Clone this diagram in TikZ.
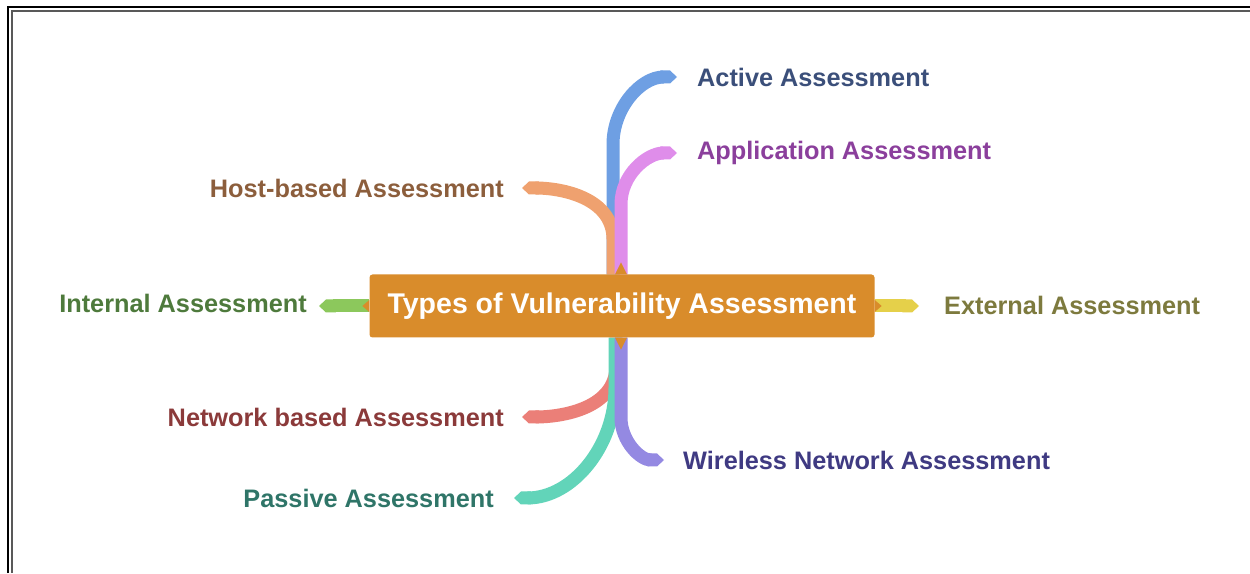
\documentclass[tikz,border=0pt]{standalone}
\usepackage{fontspec}
\setmainfont{Liberation Sans}
\usetikzlibrary{positioning,arrows.meta,backgrounds}
\definecolor{HubOrange}{HTML}{D98C2B}
\definecolor{BlueBranch}{HTML}{6E9FE3}
\definecolor{PinkBranch}{HTML}{DF8DEA}
\definecolor{OrangeBranch}{HTML}{EFA16F}
\definecolor{GreenBranch}{HTML}{8CC85C}
\definecolor{YellowBranch}{HTML}{E5D04A}
\definecolor{SalmonBranch}{HTML}{EB7F78}
\definecolor{TealBranch}{HTML}{62D4B9}
\definecolor{PurpleBranch}{HTML}{9489E2}
\definecolor{ActiveText}{HTML}{3B4F7A}
\definecolor{ApplicationText}{HTML}{8B3F9C}
\definecolor{HostText}{HTML}{8C5E3C}
\definecolor{InternalText}{HTML}{4E7A3C}
\definecolor{ExternalText}{HTML}{7D7A3E}
\definecolor{NetworkText}{HTML}{8B3A3A}
\definecolor{WirelessText}{HTML}{3F3A82}
\definecolor{PassiveText}{HTML}{2F7568}

\begin{document}
\begin{tikzpicture}[x=1pt, y=1pt,
    hubbox/.style={fill=HubOrange, text=white, rounded corners=3pt, minimum width=505pt,
      minimum height=63pt, inner sep=0pt, font=\fontsize{28.5}{32}\selectfont\bfseries},
    leaf/.style={inner sep=0pt, font=\fontsize{25.3}{30}\selectfont\bfseries},
    branch/.style={line width=13pt, -{Triangle Cap[length=7pt]}}]
  \useasboundingbox (0,0) rectangle (1250,573);

  % Frame
  \draw[line width=2.5pt, black] (8,0) -- (8,566) -- (1250,566);
  \draw[line width=2.5pt, black!65] (12,0) -- (12,562) -- (1250,562);

  % Central topic
  \node[hubbox] (hub) at (622,267) {Types of Vulnerability Assessment};
  \fill[HubOrange] ([xshift=-7pt]hub.north) -- ++(6,12) -- ++(6,-12) -- cycle;
  \fill[HubOrange] ([xshift=-7pt]hub.south) -- ++(6,-12) -- ++(6,12) -- cycle;
  \fill[HubOrange] ([yshift=-6pt]hub.west) -- ++(-7,6) -- ++(7,6) -- cycle;
  \fill[HubOrange] ([yshift=-6pt]hub.east) -- ++(7,6) -- ++(-7,6) -- cycle;

  % Leaves
  \node[leaf, anchor=west, text=ActiveText] (active) at (697,496) {Active Assessment};
  \node[leaf, anchor=west, text=ApplicationText] (application) at (697,420) {Application Assessment};
  \node[leaf, anchor=east, text=HostText] (host) at (504,385) {Host-based Assessment};
  \node[leaf, anchor=east, text=InternalText] (internal) at (307,270) {Internal Assessment};
  \node[leaf, anchor=west, text=ExternalText] (external) at (944,268) {External Assessment};
  \node[leaf, anchor=east, text=NetworkText] (network) at (504,156) {Network based Assessment};
  \node[leaf, anchor=west, text=WirelessText] (wireless) at (683,113) {Wireless Network Assessment};
  \node[leaf, anchor=east, text=PassiveText] (passive) at (494,75) {Passive Assessment};

  % Branches
  \begin{scope}[on background layer]
    \draw[branch, BlueBranch] ([xshift=-9pt]hub.north) -- ++(0,130)
      to[out=90, in=180] ([xshift=-20pt]active.west);
    \draw[branch, OrangeBranch] ([xshift=-9pt]hub.north) -- ++(0,35)
      to[out=90, in=0] ([xshift=18pt]host.east);
    \draw[branch, PinkBranch] ([xshift=-1pt]hub.north) -- ++(0,70)
      to[out=90, in=180] ([xshift=-20pt]application.west);
    \draw[branch, SalmonBranch] ([xshift=-6pt]hub.south) -- ++(0,-28)
      to[out=-90, in=0] ([xshift=18pt]network.east);
    \draw[branch, TealBranch] ([xshift=-7pt]hub.south) -- ++(0,-50)
      to[out=-90, in=0] ([xshift=20pt]passive.east);
    \draw[branch, PurpleBranch] ([xshift=-1pt]hub.south) -- ++(0,-80)
      to[out=-90, in=180] ([xshift=-19pt]wireless.west);
    \draw[branch, GreenBranch] (hub.west) -- ([xshift=12pt]hub.west -| internal.east);
    \draw[branch, YellowBranch] (hub.east) -- ([xshift=-25pt]hub.east -| external.west);
  \end{scope}
\end{tikzpicture}
\end{document}
